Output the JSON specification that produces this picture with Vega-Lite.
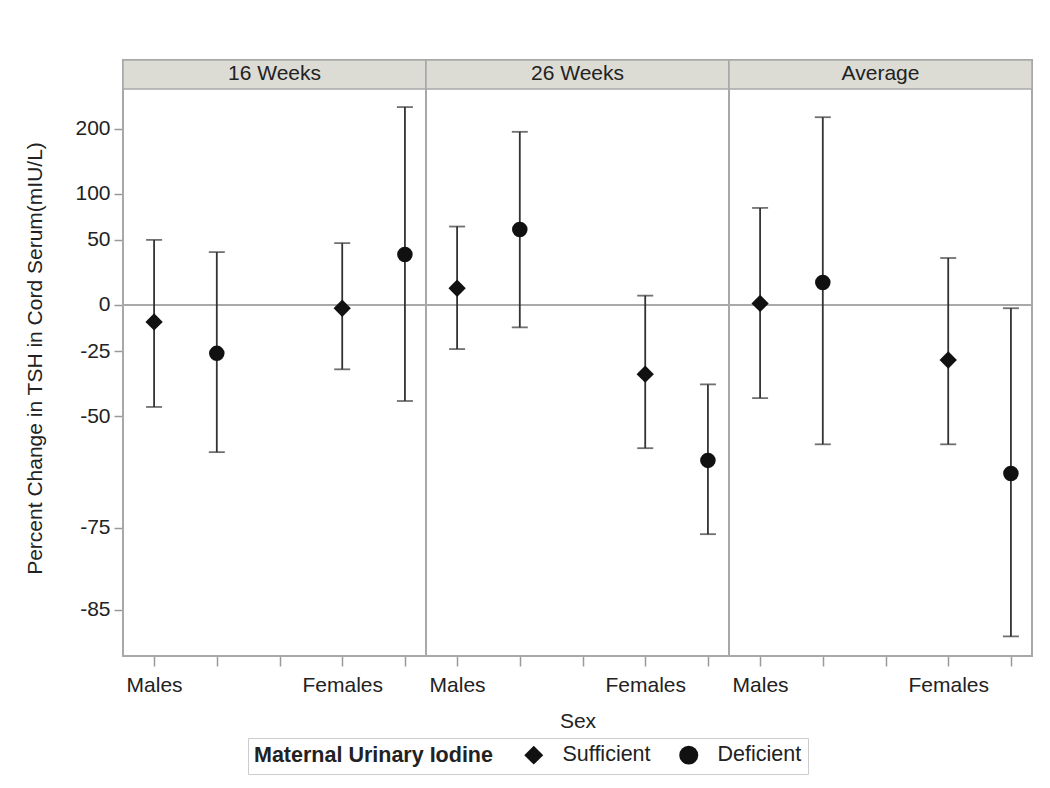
{
  "$schema": "https://vega.github.io/schema/vega-lite/v6.json",
  "padding": {"left": 24, "top": 58, "right": 18, "bottom": 10},
  "background": "white",
  "bounds": "flush",
  "data": {"values": [
    {"panel": "16 Weeks", "sex": "Males", "iodine": "Sufficient", "slot": "Males Sufficient", "ratio": 0.90, "lower": 0.53, "upper": 1.50},
    {"panel": "16 Weeks", "sex": "Males", "iodine": "Deficient", "slot": "Males Deficient", "ratio": 0.74, "lower": 0.40, "upper": 1.39},
    {"panel": "16 Weeks", "sex": "Females", "iodine": "Sufficient", "slot": "Females Sufficient", "ratio": 0.98, "lower": 0.67, "upper": 1.47},
    {"panel": "16 Weeks", "sex": "Females", "iodine": "Deficient", "slot": "Females Deficient", "ratio": 1.37, "lower": 0.55, "upper": 3.43},
    {"panel": "26 Weeks", "sex": "Males", "iodine": "Sufficient", "slot": "Males Sufficient", "ratio": 1.11, "lower": 0.76, "upper": 1.63},
    {"panel": "26 Weeks", "sex": "Males", "iodine": "Deficient", "slot": "Males Deficient", "ratio": 1.60, "lower": 0.87, "upper": 2.94},
    {"panel": "26 Weeks", "sex": "Females", "iodine": "Sufficient", "slot": "Females Sufficient", "ratio": 0.65, "lower": 0.41, "upper": 1.06},
    {"panel": "26 Weeks", "sex": "Females", "iodine": "Deficient", "slot": "Females Deficient", "ratio": 0.38, "lower": 0.24, "upper": 0.61},
    {"panel": "Average", "sex": "Males", "iodine": "Sufficient", "slot": "Males Sufficient", "ratio": 1.01, "lower": 0.56, "upper": 1.83},
    {"panel": "Average", "sex": "Males", "iodine": "Deficient", "slot": "Males Deficient", "ratio": 1.15, "lower": 0.42, "upper": 3.22},
    {"panel": "Average", "sex": "Females", "iodine": "Sufficient", "slot": "Females Sufficient", "ratio": 0.71, "lower": 0.42, "upper": 1.34},
    {"panel": "Average", "sex": "Females", "iodine": "Deficient", "slot": "Females Deficient", "ratio": 0.35, "lower": 0.127, "upper": 0.98}
  ]},
  "facet": {
    "column": {
      "field": "panel", "type": "nominal",
      "sort": ["16 Weeks", "26 Weeks", "Average"],
      "title": "Sex",
      "header": {
        "labels": false,
        "titleOrient": "bottom",
        "titleFontSize": 21,
        "titleFontWeight": "normal",
        "titleColor": "#222",
        "titlePadding": 6
      }
    }
  },
  "spacing": 0,
  "spec": {
    "width": 303,
    "height": 596,
    "encoding": {
      "x": {
        "field": "slot", "type": "ordinal",
        "scale": {
          "type": "point",
          "domain": ["Males Sufficient", "Males Deficient", "-", "Females Sufficient", "Females Deficient"],
          "padding": 0.416,
          "align": 0.596
        },
        "axis": {
          "title": null,
          "labelAngle": 0,
          "labelExpr": "datum.value == 'Males Sufficient' ? 'Males' : datum.value == 'Females Sufficient' ? 'Females' : ''",
          "domain": false,
          "grid": false,
          "tickColor": "#999999",
          "tickWidth": 1.5,
          "tickSize": 10,
          "labelFontSize": 21,
          "labelColor": "#222222",
          "labelPadding": 8
        }
      }
    },
    "layer": [
      {
        "transform": [{"filter": "datum.slot == 'Males Sufficient'"}],
        "mark": {"type": "rect", "fill": "#dcdcd5", "stroke": "#a8a8a8", "strokeWidth": 1.5},
        "encoding": {
          "x": null,
          "y": {
            "datum": 3.838, "type": "quantitative",
            "scale": {"type": "log", "domain": [0.1124, 4.598], "nice": false, "zero": false},
            "axis": {
              "title": "Percent Change in TSH in Cord Serum(mIU/L)",
              "values": [3, 2, 1.5, 1, 0.75, 0.5, 0.25, 0.15],
              "labelExpr": "'' + round(datum.value * 100 - 100)",
              "domain": false,
              "grid": false,
              "tickColor": "#999999",
              "tickWidth": 1.5,
              "tickSize": 9,
              "labelFontSize": 21,
              "labelColor": "#222222",
              "labelPadding": 4,
              "titleFontSize": 21,
              "titleFontWeight": "normal",
              "titleColor": "#222222",
              "titlePadding": 29
            }
          },
          "y2": {"datum": 4.598}
        }
      },
      {
        "transform": [{"filter": "datum.slot == 'Males Sufficient'"}],
        "mark": {"type": "text", "fontSize": 21, "color": "#222222", "baseline": "middle", "align": "center"},
        "encoding": {
          "x": null,
          "y": {"datum": 4.214, "type": "quantitative"},
          "text": {"field": "panel"}
        }
      },
      {
        "mark": {"type": "rule", "color": "#a8a8a8", "strokeWidth": 1.5},
        "encoding": {
          "x": null,
          "y": {"datum": 1, "type": "quantitative"}
        }
      },
      {
        "mark": {"type": "rule", "color": "#333333", "strokeWidth": 1.8},
        "encoding": {
          "y": {"field": "lower", "type": "quantitative"},
          "y2": {"field": "upper"}
        }
      },
      {
        "mark": {"type": "tick", "orient": "horizontal", "color": "#333333", "size": 16, "thickness": 1.8},
        "encoding": {
          "y": {"field": "lower", "type": "quantitative"}
        }
      },
      {
        "mark": {"type": "tick", "orient": "horizontal", "color": "#333333", "size": 16, "thickness": 1.8},
        "encoding": {
          "y": {"field": "upper", "type": "quantitative"}
        }
      },
      {
        "transform": [{"filter": "datum.iodine == 'Sufficient'"}],
        "mark": {"type": "point", "filled": true, "color": "#111111", "opacity": 1, "size": 300},
        "encoding": {
          "y": {"field": "ratio", "type": "quantitative"},
          "shape": {
            "field": "iodine", "type": "nominal",
            "scale": {"domain": ["Sufficient", "Deficient"], "range": ["diamond", "circle"]},
            "legend": {
              "title": "Maternal Urinary Iodine",
              "orient": "none",
              "legendX": 125,
              "legendY": 678,
              "direction": "horizontal",
              "titleOrient": "left",
              "titleFontSize": 21.5,
              "titleFontWeight": "bold",
              "titleColor": "#222222",
              "titlePadding": 30,
              "titleLimit": 0,
              "labelFontSize": 21.5,
              "labelColor": "#222222",
              "labelLimit": 0,
              "labelOffset": 18,
              "symbolSize": 360,
              "symbolFillColor": "#111111",
              "symbolStrokeColor": "#111111",
              "columnPadding": 25,
              "strokeColor": "#cccccc",
              "padding": 6
            }
          }
        }
      },
      {
        "transform": [{"filter": "datum.iodine == 'Deficient'"}],
        "mark": {"type": "point", "filled": true, "color": "#111111", "opacity": 1, "size": 240},
        "encoding": {
          "y": {"field": "ratio", "type": "quantitative"},
          "shape": {
            "field": "iodine", "type": "nominal",
            "scale": {"domain": ["Sufficient", "Deficient"], "range": ["diamond", "circle"]}
          }
        }
      }
    ]
  },
  "config": {
    "font": "Liberation Sans",
    "view": {"stroke": "#a8a8a8", "strokeWidth": 2}
  }
}
